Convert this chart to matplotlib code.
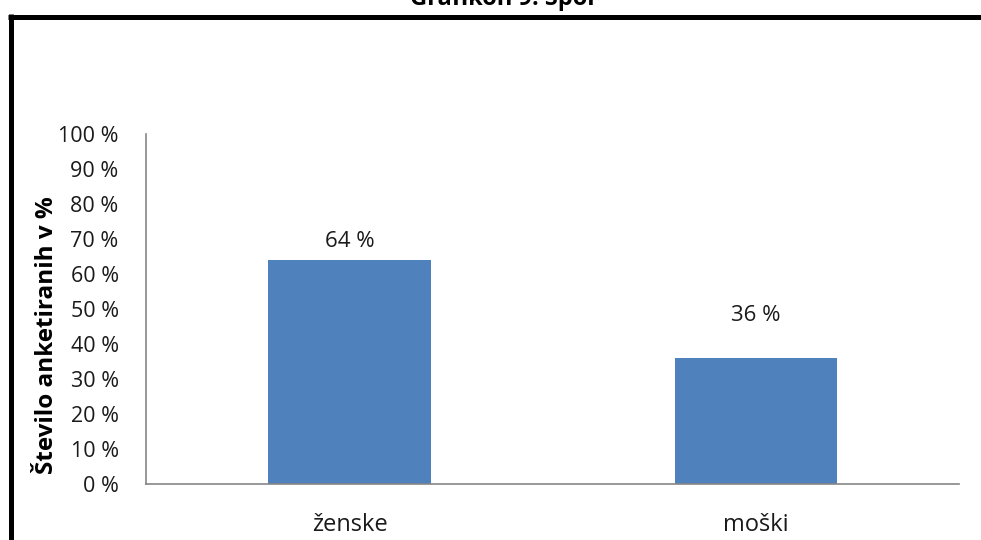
import numpy as np
import matplotlib
matplotlib.use("Agg")
import matplotlib.pyplot as plt
from matplotlib.lines import Line2D

plt.rcParams['font.family'] = ['Open Sans', 'DejaVu Sans']

# podatki: spol anketiranih
kategorije = ["ženske", "moški"]
delez = [64, 36]
yticks = np.arange(0, 101, 10)

fig = plt.figure(figsize=(9.81, 5.40), dpi=100)
ax = fig.add_axes([0.1493, 0.1037, 0.8283, 0.6481])

x = np.arange(len(kategorije))
bars = ax.bar(x, delez, width=0.4, color="#4F81BD")

ax.set_xlim(-0.5, 1.5)
ax.set_ylim(0, 100)
ax.set_yticks(yticks)
ax.set_yticklabels([f"{v} %" for v in yticks])
ax.set_xticks(x)
ax.set_xticklabels(kategorije)
ax.tick_params(axis='y', length=0, pad=20, labelsize=15.5, colors="#1a1a1a")
ax.tick_params(axis='x', length=0, pad=21, labelsize=17, colors="#1a1a1a")

for s in ["top", "right"]:
    ax.spines[s].set_visible(False)
for s in ["left", "bottom"]:
    ax.spines[s].set_color("#868686")
    ax.spines[s].set_linewidth(1.2)

ax.set_ylabel("Število anketiranih v %", fontsize=17.5, fontweight="bold")
ax.yaxis.set_label_coords(-0.108, 0.426)

# oznake vrednosti nad stolpci
odmiki = [6, 23]
for b, v, o in zip(bars, delez, odmiki):
    ax.annotate(f"{v} %", (b.get_x() + b.get_width() / 2, v),
                xytext=(0, o), textcoords="offset points",
                ha="center", va="bottom", fontsize=16, color="#1a1a1a")

# naslov grafikona, odrezan na vrhu
fig.text(502 / 981, 1 - 5 / 540, "Grafikon 9: Spol", ha="center", va="baseline",
         fontsize=17, fontweight="bold")

# črn okvir okrog grafikona
W, H = 981, 540
lw = 5 * 72 / 100
fig.add_artist(Line2D([10.5 / W, 10.5 / W], [1 - 14 / H, -0.1], color="black",
                      lw=lw, transform=fig.transFigure, solid_capstyle="butt"))
fig.add_artist(Line2D([8 / W, 1.1], [1 - 16.5 / H, 1 - 16.5 / H], color="black",
                      lw=lw, transform=fig.transFigure, solid_capstyle="butt"))

fig.savefig("out.png", dpi=100)
